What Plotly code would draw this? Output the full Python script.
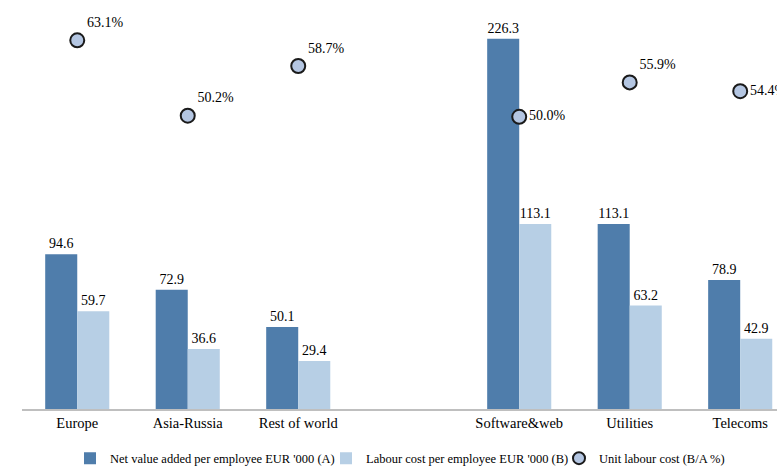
import plotly.graph_objects as go

# Regions, then a blank spacer slot, then sectors
categories = ["Europe", "Asia-Russia", "Rest of world", " ", "Software&web", "Utilities", "Telecoms"]
net_value_added = [94.6, 72.9, 50.1, None, 226.3, 113.1, 78.9]   # EUR '000 per employee (A)
labour_cost = [59.7, 36.6, 29.4, None, 113.1, 63.2, 42.9]        # EUR '000 per employee (B)
unit_labour_cost = [63.1, 50.2, 58.7, None, 50.0, 55.9, 54.4]    # B/A %

pct_positions = ["top right", "top right", "top right", "top right",
                 "middle right", "top right", "middle right"]

dark_blue = "#4F7DAB"
light_blue = "#B7CFE5"
marker_fill = "#B4C6E2"
font_family = "Liberation Serif, Times New Roman, serif"


def fmt(v):
    return "" if v is None else f"{v:.1f}"


fig = go.Figure()

fig.add_trace(go.Bar(
    name="Net value added per employee EUR '000 (A)",
    x=categories, y=net_value_added,
    marker=dict(color=dark_blue, line=dict(width=0)),
    text=[fmt(v) for v in net_value_added],
    textposition="outside", cliponaxis=False,
    textfont=dict(family=font_family, size=14, color="#000000"),
    legend="legend",
))

fig.add_trace(go.Bar(
    name="Labour cost per employee EUR '000 (B)",
    x=categories, y=labour_cost,
    marker=dict(color=light_blue, line=dict(width=0)),
    text=[fmt(v) for v in labour_cost],
    textposition="outside", cliponaxis=False,
    textfont=dict(family=font_family, size=14, color="#000000"),
    legend="legend2",
))

fig.add_trace(go.Scatter(
    name="Unit labour cost (B/A %)",
    x=categories, y=unit_labour_cost,
    yaxis="y2", mode="markers+text",
    marker=dict(symbol="circle", size=14, color=marker_fill,
                line=dict(color="#1A1A1A", width=2)),
    text=["" if v is None else f"{v:.1f}%" for v in unit_labour_cost],
    textposition=pct_positions,
    textfont=dict(family=font_family, size=14, color="#000000"),
    legend="legend3",
))

# One legend per series so the entries sit in a compact row
legend_common = dict(
    orientation="h", xref="container", yref="container",
    xanchor="left", y=0.016, yanchor="middle",
    font=dict(family=font_family, size=12.5, color="#000000"),
    itemwidth=30, itemsizing="constant", bgcolor="rgba(0,0,0,0)",
)

fig.update_layout(
    width=777, height=466,
    margin=dict(l=22, r=0, t=0, b=57, autoexpand=False),
    paper_bgcolor="white", plot_bgcolor="white",
    barmode="group", bargap=0.42, bargroupgap=0,
    font=dict(family=font_family, size=14, color="#000000"),
    xaxis=dict(
        type="category", categoryorder="array", categoryarray=categories,
        range=[-0.5, 6.333],
        showline=True, linecolor="#BFBFBF", linewidth=2,
        showgrid=False, ticks="", zeroline=False,
        tickfont=dict(family=font_family, size=14.5, color="#000000"),
    ),
    yaxis=dict(range=[0, 250], visible=False, showgrid=False, zeroline=False),
    yaxis2=dict(range=[0, 70], overlaying="y", side="right",
                visible=False, showgrid=False, zeroline=False),
    legend=dict(legend_common, x=70 / 777),
    legend2=dict(legend_common, x=326 / 777),
    legend3=dict(legend_common, x=559 / 777),
    showlegend=True,
)

fig.write_html("out.html")
